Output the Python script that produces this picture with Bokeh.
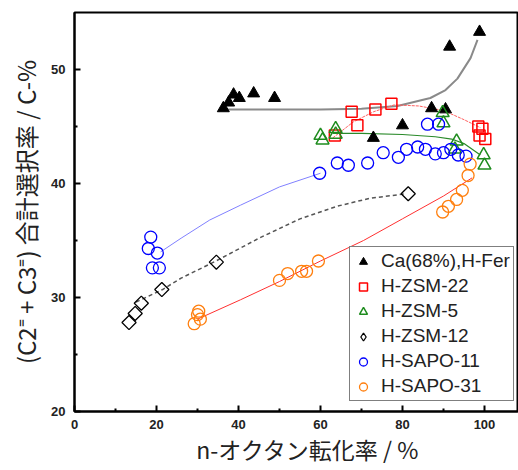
from bokeh.plotting import figure
from bokeh.models import Range1d, Legend, LegendItem, FixedTicker
from bokeh.embed import file_html
from bokeh.resources import INLINE

# ---------------- data ----------------
fer_x = [36.3, 37.6, 38.8, 40.2, 43.7, 48.8, 72.9, 80.0, 87.1, 90.5, 91.5, 98.8]
fer_y = [46.6, 47.1, 47.8, 47.5, 47.9, 47.5, 44.0, 45.1, 46.6, 46.5, 52.0, 53.3]
fer_fit_x = [37, 50, 60, 70, 78.8, 86.8, 90.5, 93.4, 96.6, 98.3]
fer_fit_y = [46.5, 46.5, 46.5, 46.55, 46.8, 47.5, 48.2, 49.2, 51.0, 52.6]

z22_x = [63.5, 67.6, 69.0, 73.4, 77.3, 98.5, 99.5, 98.8, 100.2]
z22_y = [44.2, 46.3, 45.1, 46.5, 47.0, 45.0, 44.8, 44.2, 43.9]
z22_fit_x = [63, 68, 73, 78, 84, 90, 95, 99]
z22_fit_y = [44.0, 45.4, 46.3, 46.9, 46.8, 46.4, 45.6, 44.9]

z5_x = [60.0, 60.5, 63.7, 63.7, 89.8, 90.0, 93.2, 92.8, 99.8, 100.0]
z5_y = [44.2, 43.8, 44.8, 44.3, 46.2, 45.3, 43.7, 43.0, 42.5, 41.6]
z5_fit_x = [63, 70, 80, 88, 92, 95, 99]
z5_fit_y = [44.4, 44.4, 44.3, 44.1, 43.9, 43.5, 42.5]

z12_x = [13.3, 14.8, 16.3, 21.3, 34.6, 81.4]
z12_y = [27.8, 28.6, 29.5, 30.7, 33.1, 39.1]
z12_fit_x = [15, 21.5, 26, 34.5, 45, 55, 64, 72, 81]
z12_fit_y = [29.6, 30.7, 31.7, 33.2, 35.2, 36.9, 38.0, 38.7, 39.1]

s11_x = [18.6, 18.0, 20.2, 19.0, 20.7, 59.8, 64.1, 66.8, 71.5, 75.3, 79.0, 81.0,
         83.7, 85.6, 88.0, 90.0, 91.8, 93.6, 95.5, 86.1, 88.8]
s11_y = [35.3, 34.3, 33.9, 32.6, 32.6, 40.9, 41.8, 41.6, 41.8, 42.7, 42.3, 43.0,
         43.2, 43.0, 42.6, 42.7, 43.0, 42.5, 42.4, 45.2, 45.2]
s11_fit_x = [21, 26, 33, 40.5, 50, 60]
s11_fit_y = [34.0, 35.2, 36.8, 38.1, 39.7, 40.9]

s31_x = [30.0, 29.2, 30.7, 30.3, 50.0, 52.0, 55.4, 56.6, 59.5,
         89.8, 91.2, 93.2, 94.6, 96.0, 96.5]
s31_y = [28.5, 27.7, 28.1, 28.8, 31.5, 32.1, 32.3, 32.3, 33.2,
         37.5, 38.0, 38.6, 39.4, 40.7, 41.7]
s31_fit_x = [30, 40.5, 50, 60, 70.5, 80, 90, 97]
s31_fit_y = [28.1, 29.8, 31.4, 33.2, 35.0, 36.9, 38.9, 40.5]

x_ticks = [0, 20, 40, 60, 80, 100]
y_ticks = [20, 30, 40, 50]

series_names = ["Ca(68%),H-Fer", "H-ZSM-22", "H-ZSM-5", "H-ZSM-12", "H-SAPO-11", "H-SAPO-31"]

# ---------------- figure ----------------
p = figure(width=518, height=468, output_backend="svg", toolbar_location=None,
           x_range=Range1d(0, 108.3), y_range=Range1d(20, 55),
           min_border_left=74, min_border_top=12, min_border_bottom=55, min_border_right=0)
p.grid.visible = False
p.outline_line_color = "black"
p.outline_line_width = 2
p.background_fill_color = "white"
p.border_fill_color = "white"

for ax in (p.xaxis[0], p.yaxis[0]):
    ax.axis_line_width = 2
    ax.axis_line_color = "black"
    ax.major_tick_in = 6
    ax.major_tick_out = 0
    ax.minor_tick_in = 3
    ax.minor_tick_out = 0
    ax.major_tick_line_width = 2
    ax.minor_tick_line_width = 2
    ax.major_label_text_font = "Liberation Sans"
    ax.major_label_text_font_style = "bold"
    ax.major_label_text_font_size = "13px"
    ax.major_label_text_color = "#222222"

p.xaxis.ticker = FixedTicker(ticks=x_ticks, minor_ticks=[10, 30, 50, 70, 90])
p.yaxis.ticker = FixedTicker(ticks=y_ticks, minor_ticks=[25, 35, 45])
p.xaxis.major_label_standoff = 8
p.yaxis.major_label_standoff = 9

p.yaxis.axis_label = "(C2⁼ + C3⁼) 合計選択率 / C-%"
p.yaxis.axis_label_text_font = "Noto Sans CJK JP"
p.yaxis.axis_label_text_font_style = "normal"
p.yaxis.axis_label_text_font_size = "24px"
p.yaxis.axis_label_text_color = "#222222"
p.yaxis.axis_label_standoff = 5

p.xaxis.axis_label = "\u3000n-オクタン転化率 / %"
p.xaxis.axis_label_text_font = "Noto Sans CJK JP"
p.xaxis.axis_label_text_font_style = "normal"
p.xaxis.axis_label_text_font_size = "23px"
p.xaxis.axis_label_text_color = "#222222"
p.xaxis.axis_label_standoff = 0

# ---------------- fit lines ----------------
p.line(fer_fit_x, fer_fit_y, line_color="#8a8a8a", line_width=2)
p.line(z22_fit_x, z22_fit_y, line_color="#ff6060", line_width=1, line_dash="3 1")
p.line(z5_fit_x, z5_fit_y, line_color="#2a8a2a", line_width=1.2)
p.line(z12_fit_x, z12_fit_y, line_color="#555555", line_width=1.5, line_dash="4 3")
p.line(s11_fit_x, s11_fit_y, line_color="#8080ff", line_width=1)
p.line(s31_fit_x, s31_fit_y, line_color="#ff3030", line_width=1)

# ---------------- markers ----------------
r_fer = p.scatter(fer_x, fer_y, marker="triangle", size=12, fill_color="black", line_color="black")
r_z22 = p.scatter(z22_x, z22_y, marker="square", size=11, fill_color=None, line_color="red", line_width=1.5)
r_z5 = p.scatter(z5_x, z5_y, marker="triangle", size=13, fill_color=None, line_color="#1e8c1e", line_width=1.5)
# rotated squares (diamonds) in the plot, via rect glyphs in screen-sized units
p.rect(z12_x, z12_y, width=10, height=10, width_units="screen", height_units="screen",
       angle=45, angle_units="deg", fill_color=None, line_color="black", line_width=1.3)
# legend proxy for the diamond series: same data, zero size in the plot
r_z12 = p.scatter(z12_x, z12_y, marker="diamond", size=0, fill_color=None,
                  line_color="black", line_width=1.3)
r_s11 = p.scatter(s11_x, s11_y, marker="circle", size=12, fill_color=None, line_color="blue", line_width=1.3)
r_s31 = p.scatter(s31_x, s31_y, marker="circle", size=12, fill_color=None, line_color="#ff7f0e", line_width=1.3)

legend = Legend(items=[LegendItem(label=n, renderers=[r]) for n, r in
                       zip(series_names, [r_fer, r_z22, r_z5, r_z12, r_s11, r_s31])],
                location=(275, 10), glyph_width=20, glyph_height=21, spacing=3,
                label_text_font="Liberation Sans", label_text_font_size="19px",
                label_text_color="#222222", label_standoff=8,
                border_line_color="black", border_line_width=1.5,
                padding=3, margin=0, background_fill_alpha=1)
p.add_layout(legend)

open("out.html", "w").write(file_html(p, INLINE))
